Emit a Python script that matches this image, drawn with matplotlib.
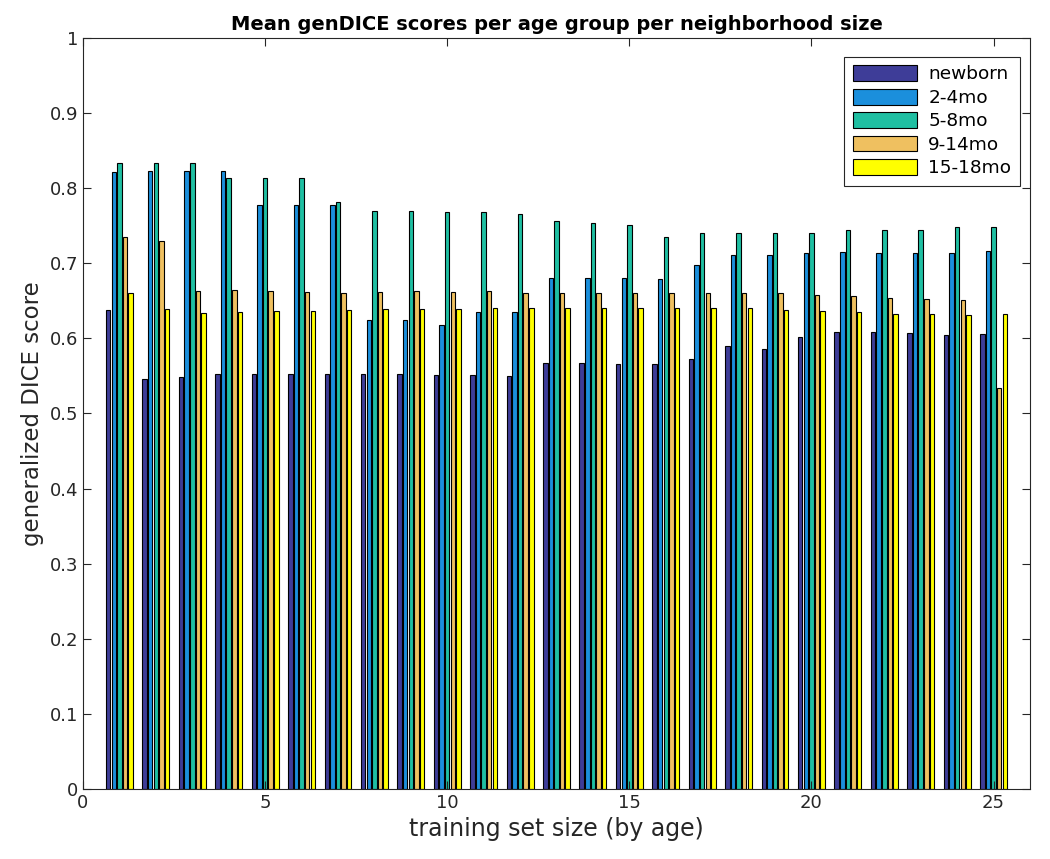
import numpy as np
import matplotlib
matplotlib.use("Agg")
import matplotlib.pyplot as plt

groups = list(range(1, 26))
series_names = ["newborn", "2-4mo", "5-8mo", "9-14mo", "15-18mo"]

newborn = [0.638, 0.546, 0.548, 0.552, 0.552, 0.553, 0.552, 0.552, 0.552, 0.551,
           0.551, 0.550, 0.567, 0.567, 0.566, 0.566, 0.572, 0.590, 0.586, 0.602,
           0.609, 0.609, 0.607, 0.605, 0.606]
mo2_4 = [0.822, 0.823, 0.823, 0.823, 0.777, 0.777, 0.777, 0.624, 0.624, 0.618,
         0.635, 0.635, 0.680, 0.680, 0.680, 0.679, 0.698, 0.711, 0.711, 0.714,
         0.715, 0.714, 0.714, 0.714, 0.716]
mo5_8 = [0.833, 0.833, 0.834, 0.814, 0.813, 0.813, 0.782, 0.769, 0.769, 0.768,
         0.768, 0.766, 0.756, 0.753, 0.751, 0.735, 0.741, 0.741, 0.740, 0.740,
         0.745, 0.745, 0.745, 0.748, 0.749]
mo9_14 = [0.735, 0.730, 0.663, 0.665, 0.663, 0.662, 0.661, 0.662, 0.663, 0.662,
          0.663, 0.661, 0.661, 0.661, 0.661, 0.661, 0.661, 0.661, 0.660, 0.658,
          0.656, 0.654, 0.653, 0.651, 0.534]
mo15_18 = [0.661, 0.639, 0.634, 0.635, 0.636, 0.636, 0.638, 0.639, 0.639, 0.639,
           0.641, 0.641, 0.641, 0.641, 0.641, 0.641, 0.641, 0.641, 0.638, 0.636,
           0.635, 0.633, 0.632, 0.631, 0.633]

series = [newborn, mo2_4, mo5_8, mo9_14, mo15_18]
colors = ["#3e3d98", "#1b8fdc", "#1fbfa2", "#efc060", "#ffff00"]

fig = plt.figure(figsize=(10.5, 8.59), dpi=100)
ax = fig.add_axes([83/1050, 1 - 789/859, (1030-83)/1050, (789-38)/859])

n = len(series)
group_w = min(0.8, n / (n + 1.5))
slot = group_w / n
bar_w = slot * 0.8
x = np.array(groups, dtype=float)
for i, (vals, c, name) in enumerate(zip(series, colors, series_names)):
    offs = -group_w/2 + slot*(i + 0.5)
    ax.bar(x + offs, vals, width=bar_w, color=c, edgecolor="black",
           linewidth=0.8, label=name)

ax.set_xlim(0, 26)
ax.set_ylim(0, 1)
ax.set_xticks([0, 5, 10, 15, 20, 25])
ax.set_yticks(np.round(np.arange(0, 1.01, 0.1), 1))
ax.set_yticklabels(["0", "0.1", "0.2", "0.3", "0.4", "0.5", "0.6", "0.7", "0.8", "0.9", "1"])
ax.tick_params(direction="in", top=True, right=True, labelsize=13, length=6,
               color="#262626", labelcolor="#262626")
for s in ax.spines.values():
    s.set_color("#262626")
    s.set_linewidth(0.8)

ax.set_xlabel("training set size (by age)", fontsize=17, color="#262626")
ax.set_ylabel("generalized DICE score", fontsize=16.5, color="#262626")
ax.set_title("Mean genDICE scores per age group per neighborhood size",
             fontsize=14, fontweight="bold", color="black", pad=6)

leg = ax.legend(loc="upper right", fontsize=13.3, fancybox=False, framealpha=1,
                edgecolor="#262626", handlelength=3.5, handleheight=0.95,
                labelspacing=0.28, borderpad=0.45, handletextpad=0.6,
                borderaxespad=0, bbox_to_anchor=(0.989, 0.975))
leg.get_frame().set_linewidth(0.8)

fig.savefig("out.png", dpi=100)
